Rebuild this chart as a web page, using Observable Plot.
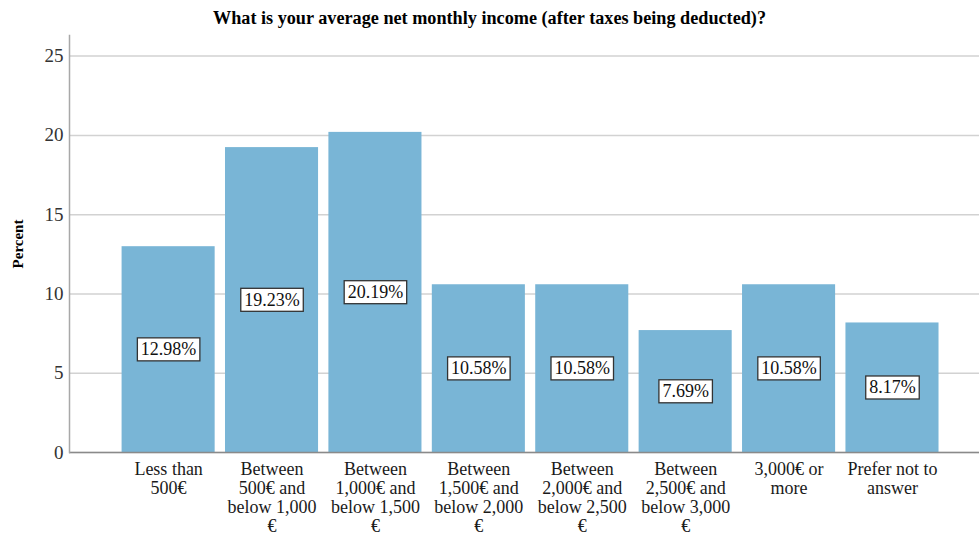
<!DOCTYPE html>
<html>
<head>
<meta charset="utf-8">
<script src="https://cdn.jsdelivr.net/npm/d3@7"></script>
<script src="https://cdn.jsdelivr.net/npm/@observablehq/plot@0.6"></script>
<style>
  html, body { margin: 0; padding: 0; background: #ffffff; }
  #title { height: 35px; line-height: 37px; text-align: center; font-family: "Liberation Serif", "Times New Roman", serif; font-weight: bold; font-size: 18.2px; color: #000; width: 979px; }
  #chart svg, #chart svg text { font-family: "Liberation Serif", "Times New Roman", serif !important; }
</style>
</head>
<body>
<div id="title">What is your average net monthly income (after taxes being deducted)?</div>
<div id="chart"></div>
<script>
const categories = [
  "Less than 500€",
  "Between 500€ and below 1,000 €",
  "Between 1,000€ and below 1,500 €",
  "Between 1,500€ and below 2,000 €",
  "Between 2,000€ and below 2,500 €",
  "Between 2,500€ and below 3,000 €",
  "3,000€ or more",
  "Prefer not to answer"
];
const percents = [12.98, 19.23, 20.19, 10.58, 10.58, 7.69, 10.58, 8.17];
const tickLabels = [
  "Less than\n500€",
  "Between\n500€ and\nbelow 1,000\n€",
  "Between\n1,000€ and\nbelow 1,500\n€",
  "Between\n1,500€ and\nbelow 2,000\n€",
  "Between\n2,000€ and\nbelow 2,500\n€",
  "Between\n2,500€ and\nbelow 3,000\n€",
  "3,000€ or\nmore",
  "Prefer not to\nanswer"
];
const yTicks = [0, 5, 10, 15, 20, 25];

const data = categories.map((c, i) => ({category: c, percent: percents[i]}));

const chart = Plot.plot({
  width: 979,
  height: 503,
  marginTop: 0,
  marginLeft: 69,
  marginRight: 0,
  marginBottom: 86,
  style: {fontFamily: "'Liberation Serif', 'Times New Roman', serif", fontSize: "18px", background: "#ffffff", overflow: "visible"},
  x: {domain: categories, paddingInner: 0.1, paddingOuter: 0.45, align: 0.565, round: false, label: null},
  y: {domain: [0, 26.3], label: null},
  marks: [
    Plot.gridY(yTicks, {stroke: "#d2d2d2", strokeOpacity: 1, strokeWidth: 1.5}),
    Plot.barY(data, {x: "category", y: "percent", fill: "#79b5d6"}),
    Plot.ruleY([0], {stroke: "#8a8a8a", strokeWidth: 1.5}),
    Plot.frame({anchor: "left", stroke: "#a8a8a8", strokeWidth: 1.5}),
    Plot.axisY({ticks: yTicks, tickSize: 0, tickPadding: 6, fill: "#333", fontSize: 19, label: null}),
    Plot.axisX({tickSize: 0, tickPadding: 9, fill: "#1a1a1a", fontSize: 18, lineHeight: 1.06, label: null,
      tickFormat: (d) => tickLabels[categories.indexOf(d)]}),
    Plot.text(["Percent"], {frameAnchor: "left", textAnchor: "middle", rotate: -90, dx: -51, fontWeight: "bold", fontSize: 15, fill: "#000"}),
    Plot.text(data, {x: "category", y: d => d.percent / 2, text: d => d.percent.toFixed(2) + "%", fontSize: 18, fill: "#111"})
  ]
});
document.getElementById("chart").appendChild(chart);

// Add boxed background behind the value labels
chart.querySelectorAll("text").forEach(t => {
  if (!/%$/.test(t.textContent)) return;
  const b = t.getBBox();
  const r = document.createElementNS("http://www.w3.org/2000/svg", "rect");
  const padX = 3.5, padY = 1.5;
  r.setAttribute("x", b.x - padX);
  r.setAttribute("y", b.y - padY);
  r.setAttribute("width", b.width + 2 * padX);
  r.setAttribute("height", b.height + 2 * padY);
  r.setAttribute("fill", "#ffffff");
  r.setAttribute("stroke", "#333");
  r.setAttribute("stroke-width", "1.3");
  const tr = t.getAttribute("transform");
  if (tr) r.setAttribute("transform", tr);
  t.parentNode.insertBefore(r, t);
});
</script>
</body>
</html>
